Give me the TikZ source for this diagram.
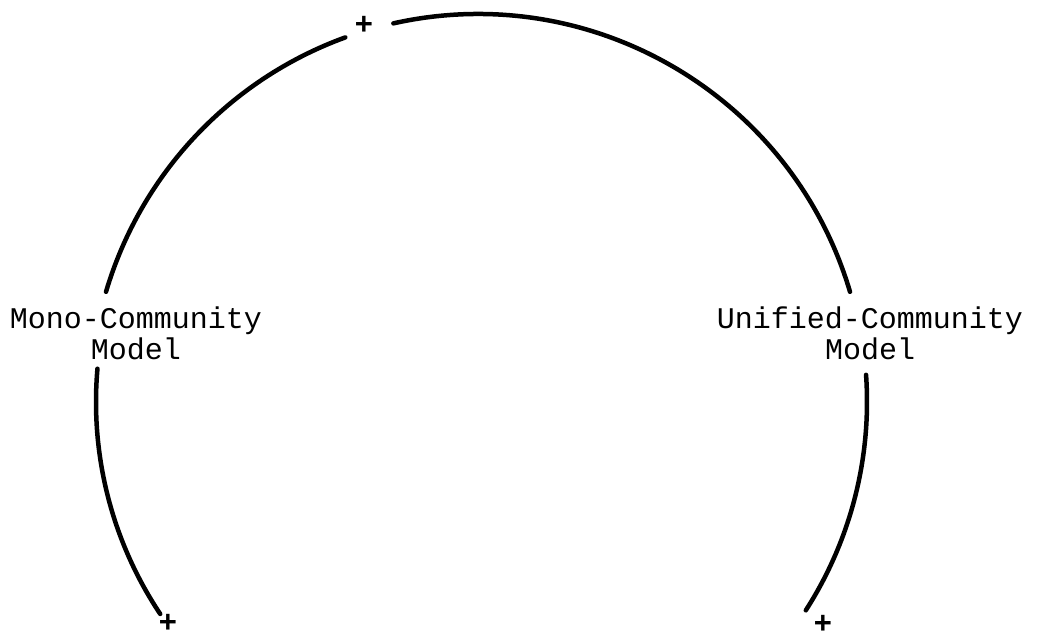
\documentclass[tikz,border=0pt]{standalone}
\usepackage{fontspec}
\setmonofont{Liberation Mono}
\newfontfamily\plusfont{Liberation Sans Bold}
\usetikzlibrary{calc}
\tikzset{
  arcline/.style={line width=4.5pt, line cap=round},
  label/.style={font=\ttfamily\fontsize{30}{31}\selectfont, align=center, inner sep=0pt},
  plus/.style={font=\plusfont\fontsize{31}{31}\selectfont, inner sep=0pt},
}
\begin{document}
\begin{tikzpicture}[x=1pt,y=-1pt]
\useasboundingbox (0,0) rectangle (1063,638);
\coordinate (O) at (478,402);
% labels
\node[label] (mono) at (136,333) {Mono-Community\\Model};
\node[label] (uni) at (870,333) {Unified-Community\\Model};
% plus signs
\node[plus] (ptop) at (364,25) {+};
\node[plus] (pl) at (168,623) {+};
\node[plus] (pr) at (823,624) {+};
% arc end points (y axis points down, so angles are clockwise)
\coordinate (a1) at ($(O)+(-163.5:388)$);
\coordinate (a2) at ($(O)+(-102.6:388)$);
\coordinate (b1) at ($(O)+(-175:382)$);
\coordinate (c1) at ($(O)+(-4:389)$);
% arcs
\draw[arcline] (a1) arc[start angle=-163.5, end angle=-110, radius=388];
\draw[arcline] (a2) arc[start angle=-102.6, end angle=-16.5, radius=388];
\draw[arcline] (b1) arc[start angle=-175, end angle=-213.7, radius=382];
\draw[arcline] (c1) arc[start angle=-4, end angle=32.7, radius=386];
\end{tikzpicture}
\end{document}
